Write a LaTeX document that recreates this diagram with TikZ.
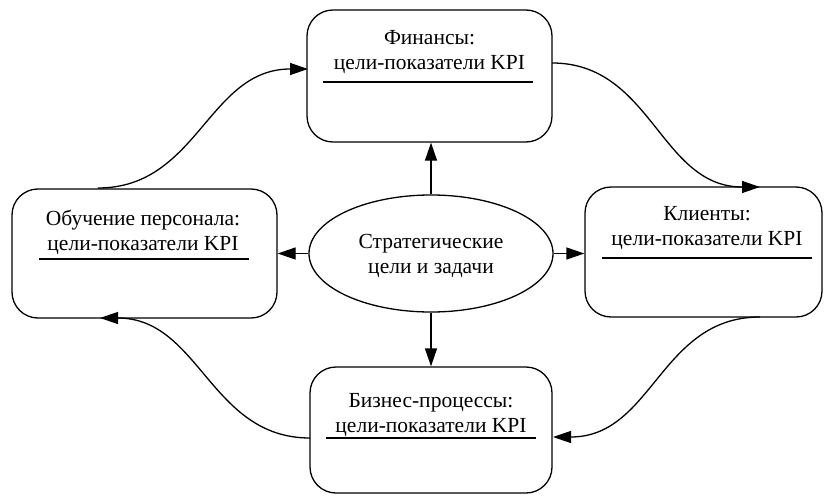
\documentclass[tikz,border=0pt]{standalone}
\usepackage{fontspec}
\setmainfont{Liberation Serif}
\usetikzlibrary{arrows.meta,shapes.geometric}
\begin{document}
\begin{tikzpicture}[x=1pt,y=-1pt,
  line width=1.3pt,
  box/.style={draw,rounded corners=26pt,inner sep=0pt},
  lbl/.style={align=center,inner sep=0pt,font=\fontsize{21.5}{25}\selectfont},
  arr/.style={-{Triangle[length=18pt,width=12pt]}},
  uline/.style={line width=1.3pt}]
\useasboundingbox (0,0) rectangle (824,495);
% boxes
\node[box,minimum width=245pt,minimum height=132pt] (tbox) at (429.5,76) {};
\node[box,minimum width=265pt,minimum height=129pt] (lbox) at (144.5,253.5) {};
\node[box,minimum width=237pt,minimum height=130pt] (rbox) at (703.5,252) {};
\node[box,minimum width=242pt,minimum height=126pt] (bbox) at (431,430) {};
\node[draw,ellipse,inner sep=0pt,minimum width=244pt,minimum height=117pt] (ell) at (431,253.5) {};
% texts
\node[lbl] (ttxt) at (429.5,52.5) {Финансы:\\цели-показатели KPI};
\node[lbl] (ltxt) at (143,232.5) {Обучение персонала:\\цели-показатели KPI};
\node[lbl] (rtxt) at (707,228.5) {Клиенты:\\цели-показатели KPI};
\node[lbl] (btxt) at (431,415) {Бизнес-процессы:\\цели-показатели KPI};
\node[lbl] (etxt) at (431,255.5) {Стратегические\\цели и задачи};
% underlines
\coordinate (tu1) at (323,82); \coordinate (tu2) at (533,82);
\coordinate (lu1) at (39,259); \coordinate (lu2) at (249,259);
\coordinate (ru1) at (602,258); \coordinate (ru2) at (812,258);
\coordinate (bu1) at (326,438); \coordinate (bu2) at (536,438);
\draw[uline] (tu1) -- (tu2);
\draw[uline] (lu1) -- (lu2);
\draw[uline] (ru1) -- (ru2);
\draw[uline] (bu1) -- (bu2);
% straight arrows
\draw[arr] (ell.north) -- (ell.north |- tbox.south);
\draw[arr] (ell.south) -- (ell.south |- bbox.north);
\draw[arr] (ell.west) -- (ell.west -| lbox.east);
\draw[arr] (ell.east) -- (ell.east -| rbox.west);
% curved connectors
\coordinate (c1a) at (98,188);  \coordinate (c1b) at (308,69);
\coordinate (c2a) at (552,63);  \coordinate (c2b) at (760,187);
\coordinate (c3a) at (760,317); \coordinate (c3b) at (553,437);
\coordinate (c4a) at (310,438); \coordinate (c4b) at (100,318);
\draw[arr] (c1a) .. controls +(100,0) and +(-100,0) .. (c1b);
\draw[arr] (c2a) .. controls +(100,0) and +(-100,0) .. (c2b);
\draw[arr] (c3a) .. controls +(-100,0) and +(100,0) .. (c3b);
\draw[arr] (c4a) .. controls +(-100,0) and +(100,0) .. (c4b);
\end{tikzpicture}
\end{document}
